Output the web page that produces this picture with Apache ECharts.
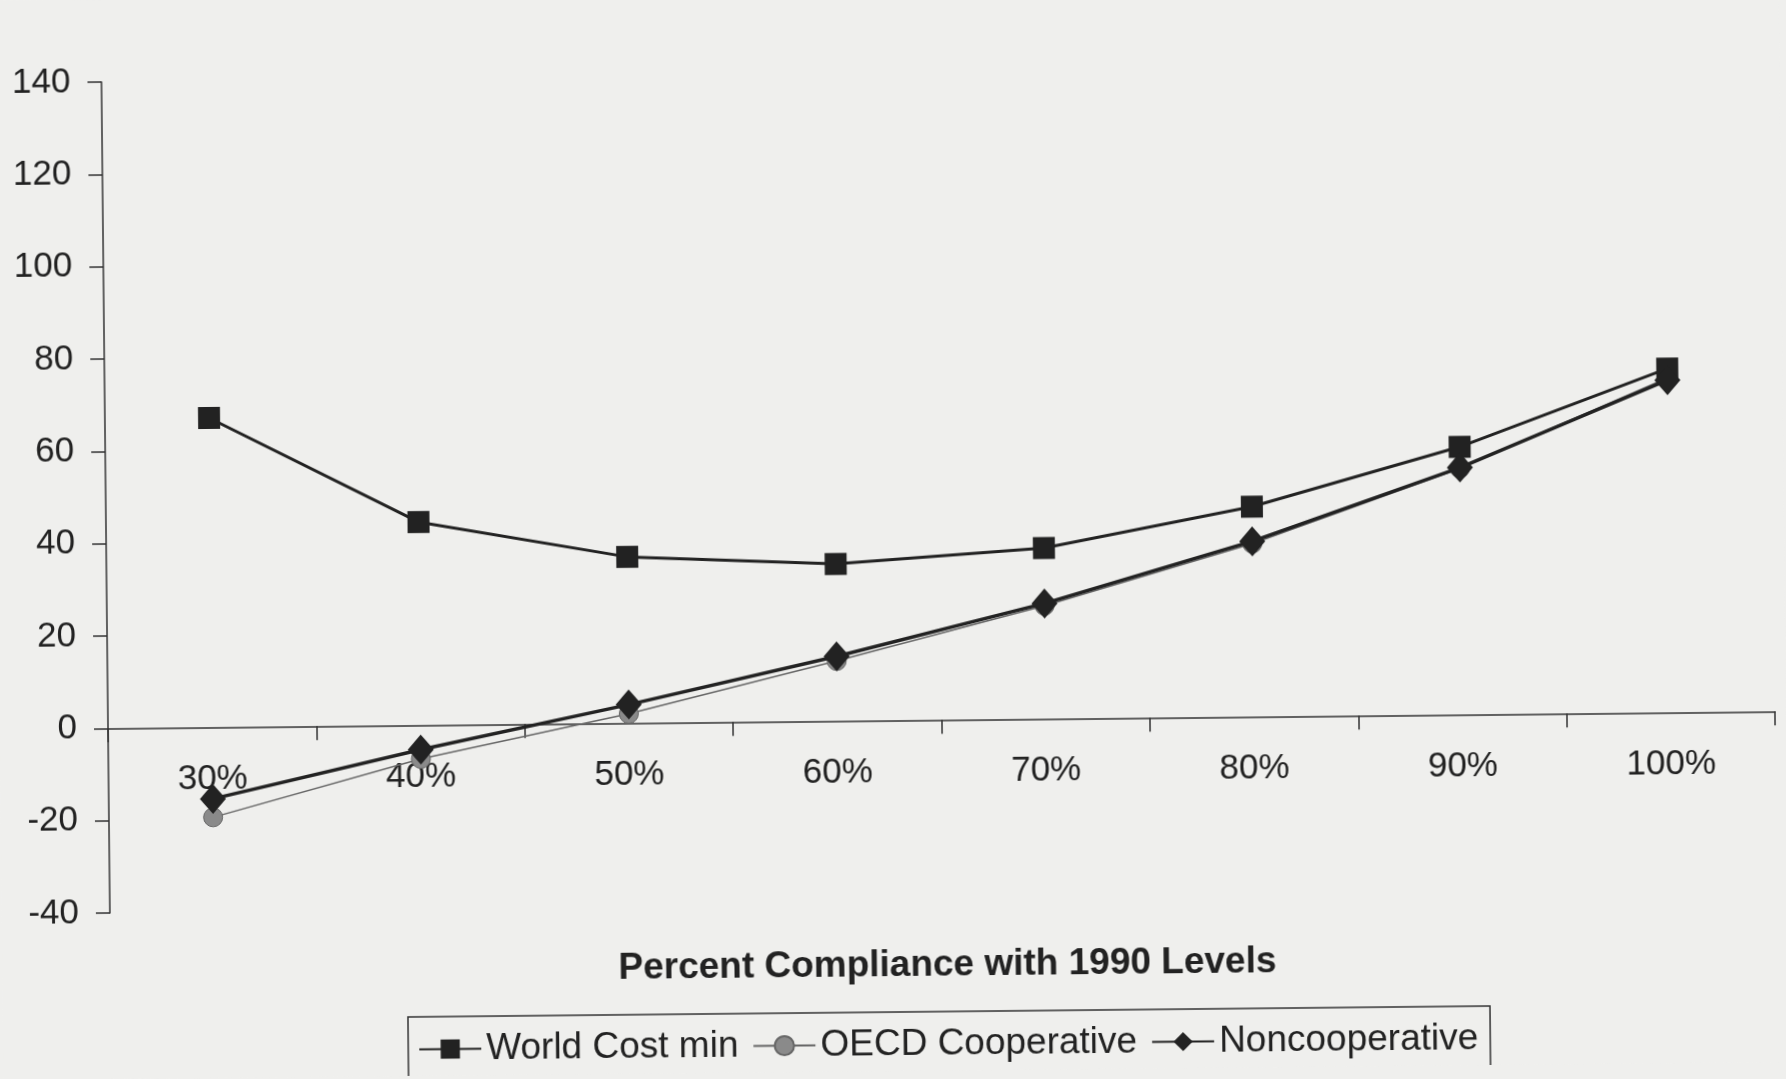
<!DOCTYPE html>
<html>
<head>
<meta charset="utf-8">
<title>Percent Compliance with 1990 Levels</title>
<script src="https://cdn.jsdelivr.net/npm/echarts@6/dist/echarts.min.js"></script>
<style>
  html, body { margin: 0; padding: 0; background: #efefed; overflow: hidden; }
  /* the printed page sits slightly askew */
  #chart { width: 1786px; height: 1079px; transform: rotate(-0.58deg); transform-origin: 108px 727px; }
</style>
</head>
<body>
<div id="chart"></div>
<script>
// Compliance levels on the category axis
const categories = ['30%', '40%', '50%', '60%', '70%', '80%', '90%', '100%'];

// Series values
const worldCostMin = [67, 44, 36, 34, 37, 45.5, 58, 74.5];
const oecdCooperative = [-19.5, -7.3, 2, 13, 24.5, 37.5, 53.3, 72.5];
const noncooperative = [-15.5, -5.3, 4, 14, 25, 38, 53.5, 72];

// Value axis range
const yMin = -40;
const yMax = 140;
const yStep = 20;

const ink = '#222';
const font = 'Liberation Sans, Arial, sans-serif';

const W = 1786, H = 1079;
const gridTop = 82, gridBottom = 166;
const plotHeight = H - gridTop - gridBottom;
// lift the category axis (line, ticks and labels together) up to the zero level
const zeroLift = (0 - yMin) / (yMax - yMin) * plotHeight;

const chart = echarts.init(document.getElementById('chart'), null, { renderer: 'canvas' });

chart.setOption({
  backgroundColor: '#efefed',
  animation: false,
  grid: { left: 108, right: 11, top: gridTop, bottom: gridBottom, containLabel: false },
  title: {
    text: 'Percent Compliance with 1990 Levels',
    left: 940,
    top: 950,
    textAlign: 'center',
    textStyle: { fontFamily: font, fontSize: 37, fontWeight: 'bold', color: ink }
  },
  legend: {
    left: 405,
    top: 1020,
    itemWidth: 62,
    itemHeight: 24,
    itemGap: 14,
    padding: [14, 12, 20, 10],
    borderColor: '#333',
    borderWidth: 1.5,
    textStyle: { fontFamily: font, fontSize: 37, color: ink },
    data: ['World Cost min', 'OECD Cooperative', 'Noncooperative']
  },
  xAxis: {
    type: 'category',
    data: categories,
    boundaryGap: true,
    position: 'bottom',
    offset: -zeroLift,
    axisLine: { onZero: false, lineStyle: { color: '#333', width: 1.5 } },
    axisTick: { show: true, length: 14, inside: false, lineStyle: { color: '#333', width: 1.5 } },
    axisLabel: { margin: 35, fontFamily: font, fontSize: 35, color: ink },
    splitLine: { show: false }
  },
  yAxis: {
    type: 'value',
    min: yMin,
    max: yMax,
    interval: yStep,
    axisLine: { show: true, lineStyle: { color: '#333', width: 1.5 } },
    axisTick: { show: true, length: 14, lineStyle: { color: '#333', width: 1.5 } },
    axisLabel: { margin: 31, fontFamily: font, fontSize: 35, color: ink },
    splitLine: { show: false }
  },
  series: [
    {
      name: 'World Cost min',
      type: 'line',
      data: worldCostMin,
      symbol: 'rect',
      symbolSize: 22,
      lineStyle: { color: '#222', width: 3 },
      itemStyle: { color: '#222' },
      z: 3
    },
    {
      name: 'OECD Cooperative',
      type: 'line',
      data: oecdCooperative,
      symbol: 'circle',
      symbolSize: 19,
      lineStyle: { color: '#666', width: 1.5 },
      itemStyle: { color: '#8a8a8a', borderColor: '#666', borderWidth: 1 },
      z: 2
    },
    {
      name: 'Noncooperative',
      type: 'line',
      data: noncooperative,
      symbol: 'diamond',
      symbolSize: [26, 30],
      lineStyle: { color: '#222', width: 3.5 },
      itemStyle: { color: '#222' },
      z: 4
    }
  ]
});
</script>
</body>
</html>
